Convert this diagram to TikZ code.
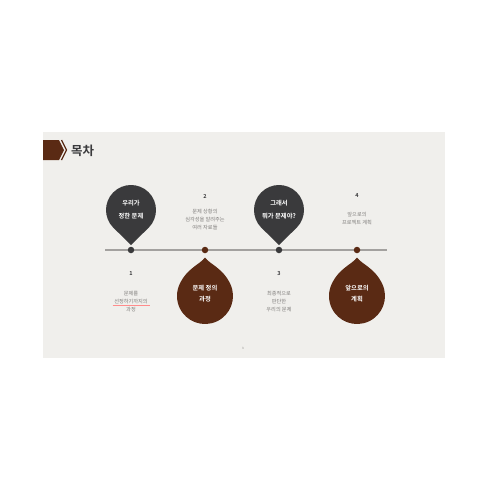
\documentclass[tikz,border=0pt]{standalone}
\usepackage{fontspec}
\usetikzlibrary{calc}
\setmainfont{Noto Sans CJK KR}[BoldFont={Noto Sans CJK KR Bold}]
\definecolor{slidebg}{HTML}{F0EFEC}
\definecolor{pindark}{HTML}{3A3A3C}
\definecolor{dropbrown}{HTML}{5A2A14}
\definecolor{linegray}{HTML}{A3A19F}
\definecolor{txtgray}{HTML}{807E7C}
\begin{document}
\begin{tikzpicture}[x=1pt,y=-1pt,
  pintext/.style={text=white,font=\bfseries\fontsize{6.3}{13}\selectfont,align=center,inner sep=0pt},
  droptext/.style={text=white,font=\bfseries\fontsize{6.3}{11}\selectfont,align=center,inner sep=0pt},
  numtext/.style={text=pindark,font=\bfseries\fontsize{5.5}{6}\selectfont,inner sep=0pt},
  desctext/.style={text=txtgray,font=\fontsize{5.2}{8.3}\selectfont,align=center,inner sep=0pt},
  tldot/.style={circle,minimum size=6.5pt,inner sep=0pt}]
\useasboundingbox (0,0) rectangle (490,490);
\fill[white] (0,0) rectangle (490,490);
% slide
\fill[slidebg] (43,132) rectangle (445,358);
% title bar
\fill[dropbrown] (43,140) -- (59,140) -- (64,150) -- (59,160) -- (43,160) -- cycle;
\draw[dropbrown,line width=1.3pt] (61.5,140) -- (66.5,150) -- (61.5,160);
\node[anchor=west,inner sep=0pt,text=pindark,font=\bfseries\fontsize{12.5}{14}\selectfont] (title) at (71,151) {목차};
% timeline
\coordinate (tlA) at (105,250);
\coordinate (tlB) at (387,250);
\draw[linegray,line width=1.2pt] (tlA) -- (tlB);
\node[tldot,fill=pindark] (d1) at (131,250) {};
\node[tldot,fill=dropbrown] (d2) at (205,250) {};
\node[tldot,fill=pindark] (d3) at (279,250) {};
\node[tldot,fill=dropbrown] (d4) at (357,250) {};
% dark pins
\foreach \cx in {131,279}{
  \fill[pindark] (\cx,245) -- ($(\cx,210)+(44.4:25)$) arc[start angle=44.4,end angle=-224.4,radius=25] -- cycle;
}
\node[pintext] (p1) at (131,209.5) {우리가\\정한 문제};
\node[pintext] (p3) at (279,209.5) {그래서\\뭐가 문제야?};
% brown drops
\foreach \cx in {205,357}{
  \fill[dropbrown] (\cx,257.5) .. controls ($(\cx,257.5)+(5,7)$) and ($(\cx,296)+(-25:28)-(7.6,16.3)$) .. ($(\cx,296)+(-25:28)$)
    arc[start angle=-25,end angle=205,radius=28]
    .. controls ($(\cx,296)+(205:28)+(7.6,-16.3)$) and ($(\cx,257.5)+(-5,7)$) .. (\cx,257.5) -- cycle;
}
\node[droptext] (p2) at (205,293.5) {문제 정의\\과정};
\node[droptext] (p4) at (357,293.5) {앞으로의\\계획};
% numbers and descriptions
\node[numtext] (n2) at (205,196) {2};
\node[desctext,anchor=north] (t2) at (205,208.5) {문제 상황의\\심각성을 알려주는\\여러 자료들};
\node[numtext] (n4) at (357,196) {4};
\node[desctext,anchor=north] (t4) at (357,211.5) {앞으로의\\프로젝트 계획};
\node[numtext] (n1) at (131,274) {1};
\node[desctext,anchor=north] (t1) at (131,290.5) {문제를\\선정하기까지의\\과정};
\node[numtext] (n3) at (279,274) {3};
\node[desctext,anchor=north] (t3) at (279,290.5) {최종적으로\\판단한\\우리의 문제};
\coordinate (ulA) at (112.5,305.5);
\coordinate (ulB) at (149.5,305.5);
\draw[red!45!white,line width=0.3pt] (ulA) -- (ulB);
% page number
\node[text=txtgray,font=\fontsize{3}{3}\selectfont,inner sep=0pt] (pg) at (243,348) {3};
\end{tikzpicture}
\end{document}
